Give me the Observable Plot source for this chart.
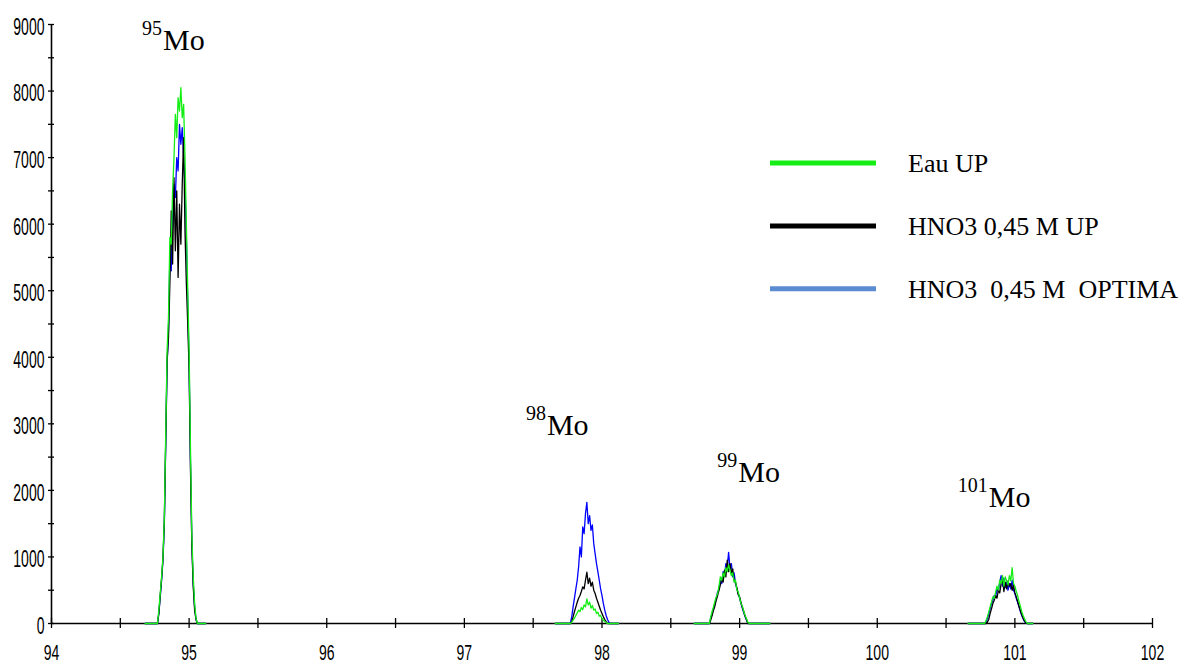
<!DOCTYPE html>
<html>
<head>
<meta charset="utf-8">
<script src="https://cdn.jsdelivr.net/npm/d3@7"></script>
<script src="https://cdn.jsdelivr.net/npm/@observablehq/plot@0.6"></script>
<style>
  html, body { margin: 0; padding: 0; background: #fff; }
  #chart svg { display: block; }
</style>
</head>
<body>
<div id="chart"></div>
<script>
// Mass scans around the molybdenum isotopes: m/z channels and counts per solution.
const seriesNames = ["Eau UP", "HNO3 0,45 M UP", "HNO3  0,45 M  OPTIMA"];

// ---- 95Mo ----
const mass95 = [94.68, 94.72, 94.76, 94.77, 94.78, 94.79, 94.80, 94.81, 94.82, 94.83, 94.84, 94.85,
  94.86, 94.87, 94.88, 94.89, 94.90, 94.91, 94.92, 94.93, 94.94, 94.95, 94.96, 94.97, 94.98, 94.99,
  95.00, 95.01, 95.02, 95.03, 95.04, 95.05, 95.06, 95.09, 95.12];
const eau95 = [0, 0, 0, 0, 200, 450, 700, 1000, 1600, 2850, 4100, 4600, 5800, 5700, 6500, 7000, 7650,
  7300, 7900, 7700, 8050, 7600, 7800, 7000, 6000, 5000, 4100, 2600, 1300, 700, 300, 80, 0, 0, 0];
const up95 = [0, 0, 0, 0, 150, 420, 680, 980, 1550, 2750, 3950, 4300, 5100, 6200, 5400, 6700, 5600,
  6500, 5200, 6300, 5700, 6600, 7300, 5900, 5100, 4500, 3800, 2300, 1150, 550, 200, 60, 0, 0, 0];
const optima95 = [0, 0, 0, 0, 150, 400, 650, 950, 1500, 2700, 3900, 4400, 5500, 5300, 6100, 6600, 6400,
  7000, 6800, 7500, 7200, 7450, 7000, 6600, 5800, 4800, 3900, 2400, 1200, 600, 250, 60, 0, 0, 0];

// ---- 98Mo ----
const mass98 = [97.66, 97.70, 97.74, 97.77, 97.78, 97.79, 97.80, 97.81, 97.82, 97.83, 97.84, 97.85,
  97.86, 97.87, 97.88, 97.89, 97.90, 97.91, 97.92, 97.93, 97.94, 97.95, 97.96, 97.97, 97.98, 97.99,
  98.00, 98.01, 98.02, 98.03, 98.04, 98.05, 98.06, 98.09, 98.12];
const eau98 = [0, 0, 0, 0, 20, 50, 80, 120, 160, 200, 180, 240, 210, 280, 250, 370, 280, 320, 230, 270,
  200, 220, 150, 170, 110, 120, 70, 50, 30, 15, 0, 0, 0, 0, 0];
const up98 = [0, 0, 0, 0, 30, 100, 180, 250, 320, 380, 420, 480, 550, 520, 650, 770, 600, 680, 560, 620,
  500, 450, 380, 320, 260, 200, 150, 100, 60, 30, 0, 0, 0, 0, 0];
const optima98 = [0, 0, 0, 0, 100, 250, 380, 520, 650, 850, 1150, 1000, 1450, 1350, 1650, 1820, 1500,
  1620, 1400, 1480, 1200, 1050, 900, 780, 650, 520, 420, 300, 200, 120, 60, 20, 0, 0, 0];

// ---- 99Mo ----
const mass99 = [98.67, 98.71, 98.75, 98.78, 98.79, 98.80, 98.81, 98.82, 98.83, 98.84, 98.85, 98.86,
  98.87, 98.88, 98.89, 98.90, 98.91, 98.92, 98.93, 98.94, 98.95, 98.96, 98.97, 98.98, 98.99, 99.00,
  99.01, 99.02, 99.03, 99.04, 99.05, 99.06, 99.07, 99.11, 99.16, 99.22];
const eau99 = [0, 0, 0, 0, 100, 180, 250, 330, 400, 450, 560, 700, 650, 760, 700, 840, 780, 880, 800,
  720, 760, 620, 650, 500, 480, 380, 300, 260, 180, 120, 70, 20, 0, 0, 0, 0];
const up99 = [0, 0, 0, 0, 50, 120, 200, 260, 350, 420, 500, 580, 680, 620, 800, 700, 950, 780, 900,
  760, 820, 640, 620, 540, 430, 400, 310, 240, 180, 110, 60, 0, 0, 0, 0, 0];
const optima99 = [0, 0, 0, 0, 80, 150, 220, 300, 380, 470, 520, 640, 600, 780, 720, 900, 850, 1070, 820,
  900, 700, 760, 600, 520, 450, 380, 300, 230, 160, 100, 50, 10, 0, 0, 0, 0];

// ---- 101Mo ----
const mass101 = [100.66, 100.70, 100.74, 100.78, 100.79, 100.80, 100.81, 100.82, 100.83, 100.84,
  100.85, 100.86, 100.87, 100.88, 100.89, 100.90, 100.91, 100.92, 100.93, 100.94, 100.95, 100.96,
  100.97, 100.98, 100.99, 101.00, 101.01, 101.02, 101.03, 101.04, 101.05, 101.06, 101.07, 101.08,
  101.09, 101.11, 101.13];
const eau101 = [0, 0, 0, 0, 40, 100, 170, 250, 320, 400, 380, 470, 560, 500, 650, 600, 720, 560, 700,
  640, 580, 720, 640, 840, 600, 560, 480, 420, 330, 260, 180, 120, 70, 30, 0, 0, 0];
const up101 = [0, 0, 0, 0, 0, 20, 60, 150, 220, 300, 350, 420, 380, 500, 460, 600, 690, 480, 620, 520,
  640, 560, 600, 500, 580, 460, 400, 330, 260, 190, 130, 80, 40, 10, 0, 0, 0];
const optima101 = [0, 0, 0, 0, 20, 70, 140, 220, 300, 350, 420, 400, 520, 480, 620, 720, 560, 680, 540,
  620, 500, 600, 520, 650, 500, 450, 380, 320, 250, 180, 120, 70, 30, 10, 0, 0, 0];

// Isotope annotations (mass number, anchor m/z, anchor count at the text baseline)
const isoNumbers = ["95", "98", "99", "101"];
const isoMass = [94.81, 97.60, 98.99, 100.81];
const isoCount = [8610, 2825, 2125, 1745];

// Axis ticks
const xMajor = [94, 95, 96, 97, 98, 99, 100, 101, 102];
const xTicks = [94, 94.5, 95, 95.5, 96, 96.5, 97, 97.5, 98, 98.5, 99, 99.5, 100, 100.5, 101, 101.5, 102];
const yMajor = [0, 1000, 2000, 3000, 4000, 5000, 6000, 7000, 8000, 9000];
const yTicks = [0, 500, 1000, 1500, 2000, 2500, 3000, 3500, 4000, 4500, 5000, 5500, 6000, 6500, 7000,
  7500, 8000, 8500, 9000];

// Long table: one line per (series, peak); blue drawn first, green last (on top)
const scans = [
  {iso: "95", mass: mass95, counts: [eau95, up95, optima95]},
  {iso: "98", mass: mass98, counts: [eau98, up98, optima98]},
  {iso: "99", mass: mass99, counts: [eau99, up99, optima99]},
  {iso: "101", mass: mass101, counts: [eau101, up101, optima101]}
];
const rows = [];
for (const s of [2, 1, 0]) {
  for (const scan of scans) {
    scan.mass.forEach((m, i) => rows.push({series: seriesNames[s], peak: scan.iso, mass: m, counts: scan.counts[s][i]}));
  }
}
const isoLabels = isoNumbers.map((n, i) => ({n, mass: isoMass[i], count: isoCount[i]}));

const W = 1184, H = 666;
const mL = 51, mR = 32, mT = 24, mB = 43;
const frameW = W - mL - mR, frameH = H - mT - mB;
const lineColors = ["#14ee14", "#000000", "#0000ff"];
const legendColors = ["#14ee14", "#000000", "#5b8bd0"];
const tickFont = "Liberation Sans, Arial, sans-serif";
const serif = "'Liberation Serif', 'Times New Roman', serif";

const plot = Plot.plot({
  width: W,
  height: H,
  marginLeft: mL,
  marginRight: mR,
  marginTop: mT,
  marginBottom: mB,
  x: {domain: [94, 102]},
  y: {domain: [0, 9000]},
  color: {domain: seriesNames, range: lineColors},
  style: {background: "#fff", color: "#000", fontFamily: tickFont},
  marks: [
    Plot.axisX({ticks: xMajor, tickSize: 0, tickPadding: 21, fontSize: 22, tickFormat: d => String(d), label: null}),
    Plot.axisY({ticks: yMajor, tickSize: 0, tickPadding: 7, fontSize: 23, dy: 3, tickFormat: d => String(d), label: null}),
    Plot.ruleY([0], {stroke: "#000", strokeWidth: 1.6}),
    Plot.ruleX([94], {stroke: "#000", strokeWidth: 1.6}),
    Plot.tickX(xTicks, {x: d => d, insetTop: frameH - 5, insetBottom: -5, stroke: "#000", strokeWidth: 1.3}),
    Plot.tickY(yTicks, {y: d => d, insetLeft: -3, insetRight: frameW - 3, stroke: "#000", strokeWidth: 1.3}),
    Plot.line(rows, {x: "mass", y: "counts", z: d => d.series + "-" + d.peak, stroke: "series", strokeWidth: 1.3}),
    Plot.text(isoLabels, {x: "mass", y: "count", text: d => d.n, textAnchor: "end", dx: -1, dy: -21.4,
      fontSize: 20, fontFamily: serif, fill: "#000"}),
    Plot.text(isoLabels, {x: "mass", y: "count", text: () => "Mo", textAnchor: "start", dy: -9.6,
      fontSize: 30, fontFamily: serif, fill: "#000"})
  ]
});

const svg = d3.select(plot);

// Narrow the tick numerals to the condensed look of the axis labels
svg.selectAll('g[aria-label="x-axis tick label"] text, g[aria-label="y-axis tick label"] text')
  .each(function () {
    const t = d3.select(this);
    t.attr("textLength", t.text().length * 7.8).attr("lengthAdjust", "spacingAndGlyphs");
  });

// Legend
const legend = svg.append("g")
  .style("font-family", serif)
  .style("font-size", "26px")
  .attr("fill", "#000")
  .attr("text-anchor", "start");
seriesNames.forEach((name, i) => {
  const y = 163 + i * 62.9;
  legend.append("line")
    .attr("x1", 770).attr("x2", 876).attr("y1", y).attr("y2", y)
    .attr("stroke", legendColors[i]).attr("stroke-width", 5);
  legend.append("text")
    .attr("x", 908).attr("y", y + 9)
    .attr("text-anchor", "start")
    .style("font-family", serif)
    .style("white-space", "pre")
    .text(name);
});

document.getElementById("chart").appendChild(plot);
</script>
</body>
</html>
